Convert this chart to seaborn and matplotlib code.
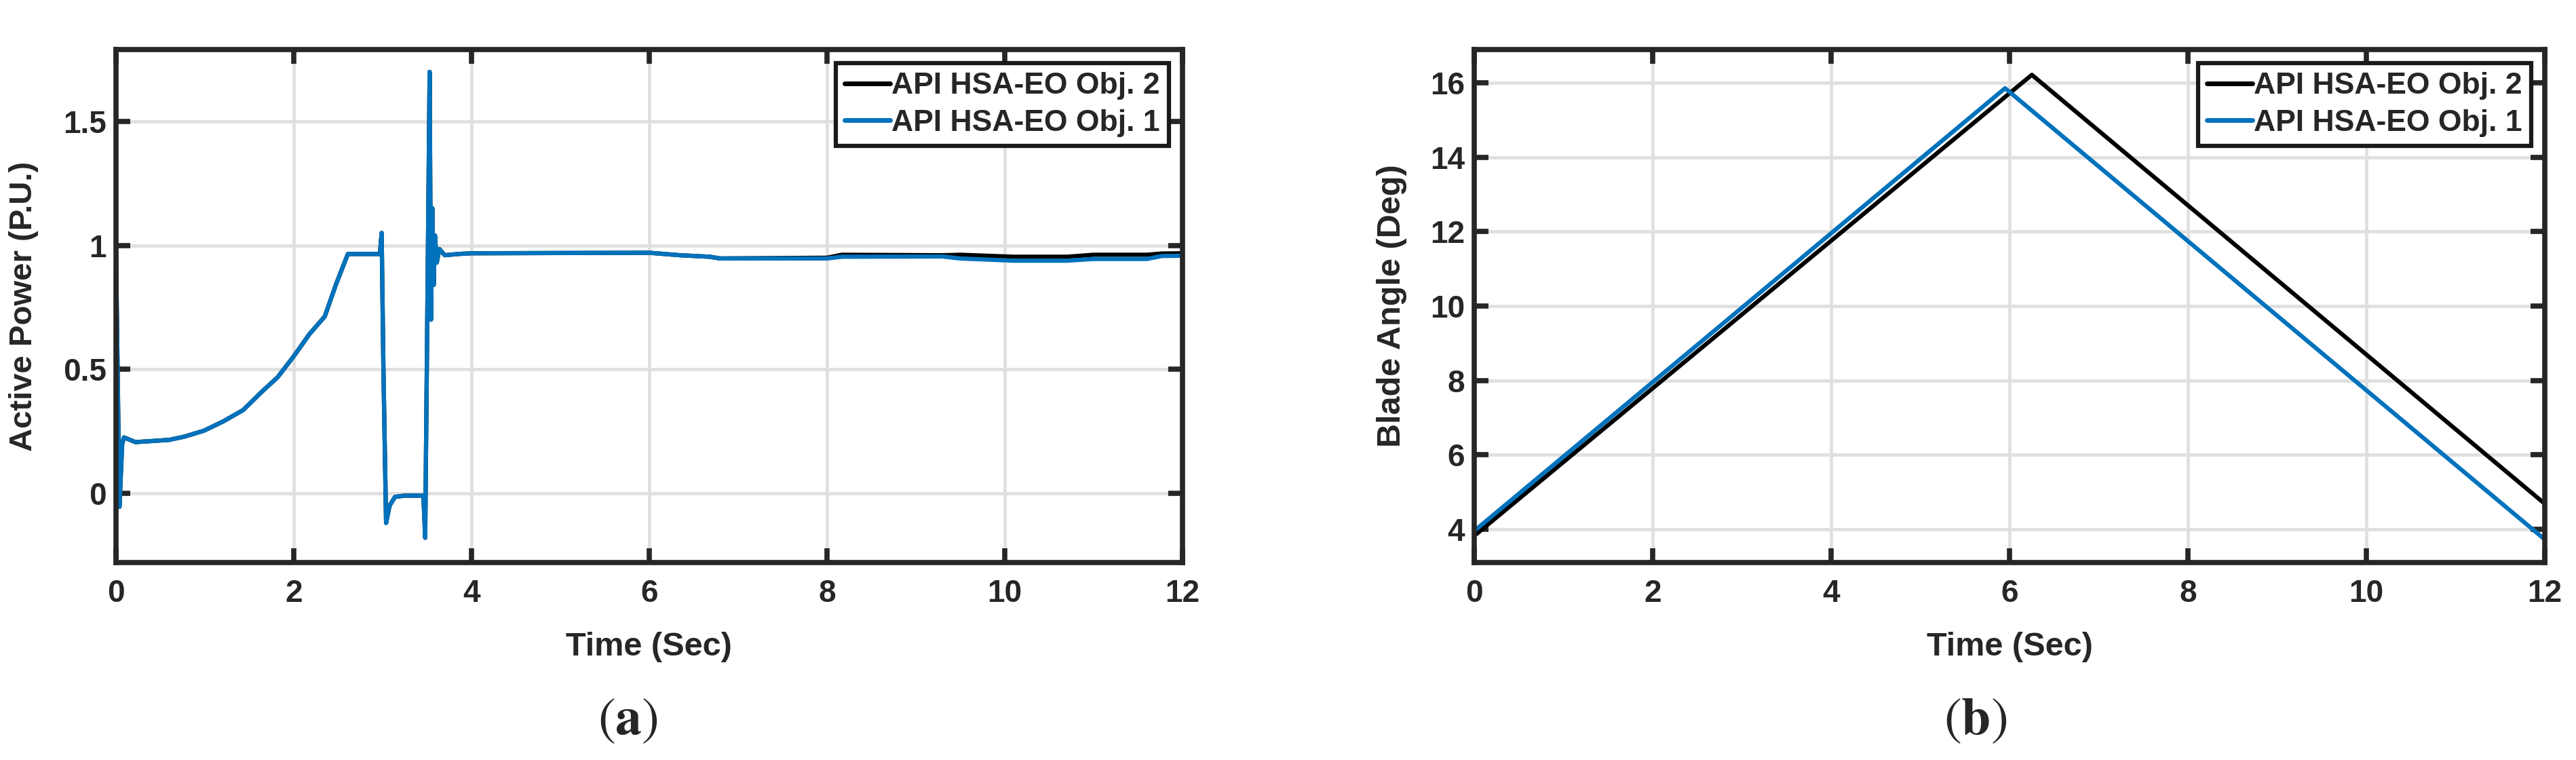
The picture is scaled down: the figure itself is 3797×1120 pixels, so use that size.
import pandas as pd
import numpy as np
import seaborn as sns
import matplotlib.pyplot as plt

# values
t_power = [0.0, 0.04, 0.07, 0.09, 0.22, 0.6, 0.77, 0.99, 1.21, 1.43, 1.65, 1.82, 2.0, 2.18,
           2.35, 2.48, 2.61, 2.97, 2.99, 3.01, 3.04, 3.08, 3.14, 3.25, 3.46, 3.48, 3.53,
           3.545, 3.56, 3.575, 3.59, 3.61, 3.64, 3.7, 3.85, 4.0, 6.0, 6.35, 6.68, 6.8, 8.0,
           8.17, 9.3, 9.5, 10.1, 10.7, 11.0, 11.6, 11.77, 12.0]
power_obj1 = [1.0, -0.055, 0.197, 0.225, 0.206, 0.215, 0.228, 0.252, 0.29, 0.335, 0.412,
              0.468, 0.552, 0.643, 0.713, 0.846, 0.965, 0.965, 1.05, 0.5, -0.12, -0.05,
              -0.015, -0.01, -0.01, -0.18, 1.70, 0.70, 1.15, 0.84, 1.04, 0.93, 0.985, 0.96,
              0.965, 0.968, 0.97, 0.96, 0.954, 0.947, 0.947, 0.954, 0.955, 0.947, 0.938,
              0.938, 0.945, 0.945, 0.957, 0.958]
power_obj2 = [1.0, -0.055, 0.197, 0.225, 0.206, 0.215, 0.228, 0.252, 0.29, 0.335, 0.412,
              0.468, 0.552, 0.643, 0.713, 0.846, 0.965, 0.965, 1.05, 0.5, -0.12, -0.05,
              -0.015, -0.01, -0.01, -0.18, 1.70, 0.70, 1.15, 0.84, 1.04, 0.93, 0.985, 0.96,
              0.965, 0.968, 0.97, 0.96, 0.954, 0.947, 0.95, 0.962, 0.96, 0.962, 0.954,
              0.954, 0.962, 0.962, 0.967, 0.968]

t_angle_obj2 = [0.0, 6.25, 12.0]
angle_obj2 = [3.82, 16.22, 4.68]
t_angle_obj1 = [0.0, 5.95, 12.0]
angle_obj1 = [3.95, 15.86, 3.72]

labels = ['API HSA-EO Obj. 2', 'API HSA-EO Obj. 1']
colors = {'API HSA-EO Obj. 2': '#000000', 'API HSA-EO Obj. 1': '#0072BD'}
time_ticks = [0, 2, 4, 6, 8, 10, 12]
power_ticks = [0, 0.5, 1, 1.5]
power_tick_labels = ['0', '0.5', '1', '1.5']
angle_ticks = [4, 6, 8, 10, 12, 14, 16]


def style_axes(ax):
    ax.grid(True, color='#e0e0e0', lw=3.5)
    ax.set_axisbelow(True)
    for s in ax.spines.values():
        s.set_linewidth(5.5)
        s.set_color('#262626')
        s.set_visible(True)
    ax.tick_params(direction='in', length=15, width=5.5, color='#262626',
                   top=True, right=True, labelsize=33, labelcolor='#262626')
    ax.tick_params(axis='x', pad=17)
    ax.tick_params(axis='y', pad=10)
    for lbl in ax.get_xticklabels() + ax.get_yticklabels():
        lbl.set_fontweight('bold')
    h, l = ax.get_legend_handles_labels()
    leg = ax.legend(h, l, loc='upper right', frameon=True, fancybox=False, framealpha=1,
                    borderaxespad=0.45, borderpad=0.3, labelspacing=0.3,
                    handlelength=1.5, handletextpad=0.05, prop={'weight': 'bold', 'size': 32})
    leg.get_frame().set_edgecolor('#1a1a1a')
    leg.get_frame().set_linewidth(4.5)
    for line in leg.get_lines():
        line.set_linewidth(5)


def main():
    sns.set_style('ticks')
    plt.rcParams['font.family'] = ['Liberation Sans', 'DejaVu Sans']
    plt.rcParams['mathtext.fontset'] = 'stix'

    df_power = pd.concat([
        pd.DataFrame({'t': t_power, 'v': power_obj2, 'series': labels[0]}),
        pd.DataFrame({'t': t_power, 'v': power_obj1, 'series': labels[1]}),
    ])
    df_angle = pd.concat([
        pd.DataFrame({'t': t_angle_obj2, 'v': angle_obj2, 'series': labels[0]}),
        pd.DataFrame({'t': t_angle_obj1, 'v': angle_obj1, 'series': labels[1]}),
    ])

    fig = plt.figure(figsize=(37.97, 11.2), dpi=100)
    ax1 = fig.add_axes([0.0450, 0.2598, 0.4140, 0.6750])
    ax2 = fig.add_axes([0.5723, 0.2598, 0.4156, 0.6750])

    sns.lineplot(data=df_power, x='t', y='v', hue='series', hue_order=labels,
                 palette=colors, estimator=None, sort=False, lw=4.5, ax=ax1)
    ax1.set_xlim(0, 12)
    ax1.set_ylim(-0.28, 1.79)
    ax1.set_xticks(time_ticks)
    ax1.set_yticks(power_ticks, power_tick_labels)
    ax1.set_xlabel('Time (Sec)', fontsize=35, fontweight='bold', color='#262626')
    ax1.set_ylabel('Active Power (P.U.)', fontsize=34, fontweight='bold', color='#262626')
    ax1.xaxis.set_label_coords(0.5, -0.135)
    ax1.yaxis.set_label_coords(-0.0725, 0.5)
    style_axes(ax1)

    sns.lineplot(data=df_angle, x='t', y='v', hue='series', hue_order=labels,
                 palette=colors, estimator=None, sort=False, lw=4.5, ax=ax2)
    ax2.set_xlim(0, 12)
    ax2.set_ylim(3.1, 16.9)
    ax2.set_xticks(time_ticks)
    ax2.set_yticks(angle_ticks)
    ax2.set_xlabel('Time (Sec)', fontsize=35, fontweight='bold', color='#262626')
    ax2.set_ylabel('Blade Angle (Deg)', fontsize=35, fontweight='bold', color='#262626')
    ax2.xaxis.set_label_coords(0.5, -0.135)
    ax2.yaxis.set_label_coords(-0.0627, 0.5)
    style_axes(ax2)

    fig.text(0.2436, 0.052, r'$(\mathbf{a})$', fontsize=56, ha='center', va='center')
    fig.text(0.7669, 0.052, r'$(\mathbf{b})$', fontsize=56, ha='center', va='center')

    fig.savefig('out.png', dpi=100)


if __name__ == "__main__":
    main()
